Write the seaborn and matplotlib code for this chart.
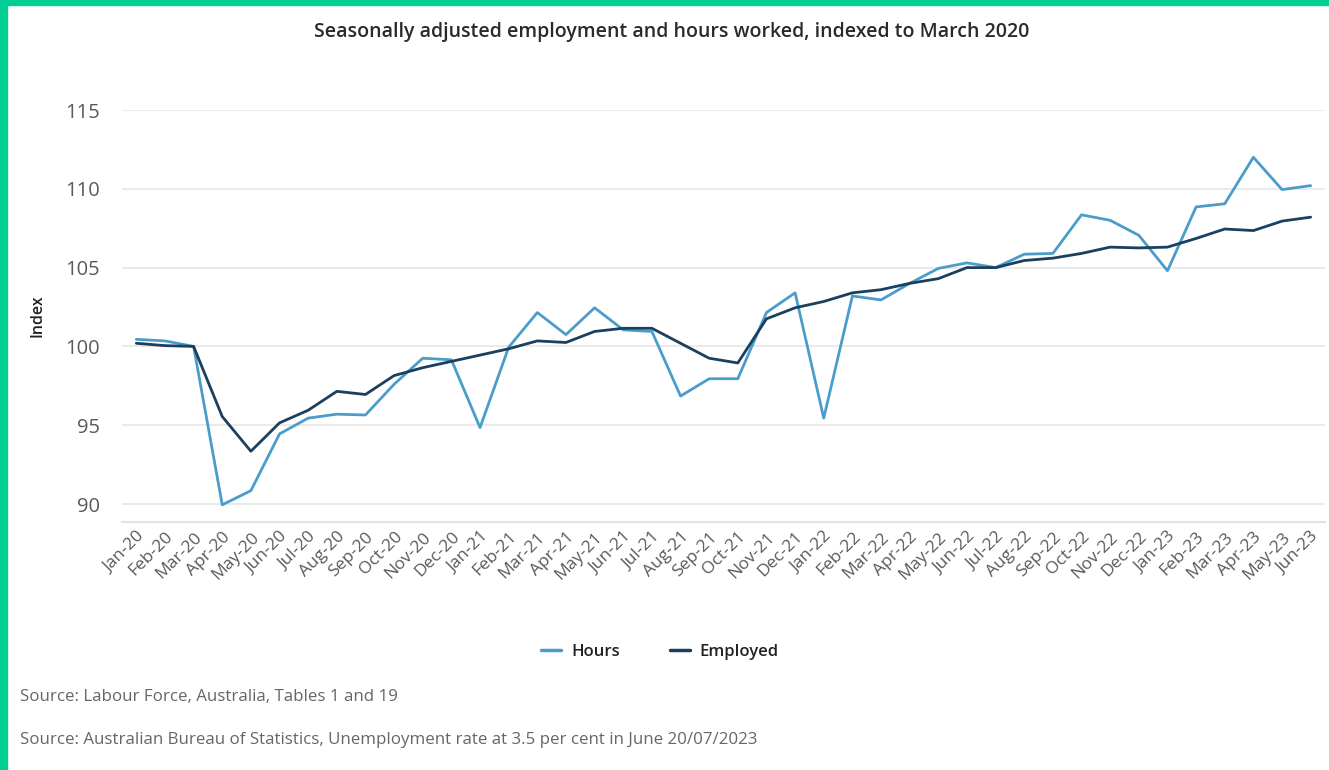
# -*- coding: utf-8 -*-
"""
Seasonally adjusted employment and hours worked, indexed to March 2020
"""

import numpy as np
import pandas as pd
import matplotlib.pyplot as plt
import seaborn as sns
from matplotlib.patches import Rectangle

#monthly labels Jan-20 .. Jun-23
months = ['Jan-20', 'Feb-20', 'Mar-20', 'Apr-20', 'May-20', 'Jun-20', 'Jul-20', 'Aug-20',
          'Sep-20', 'Oct-20', 'Nov-20', 'Dec-20', 'Jan-21', 'Feb-21', 'Mar-21', 'Apr-21',
          'May-21', 'Jun-21', 'Jul-21', 'Aug-21', 'Sep-21', 'Oct-21', 'Nov-21', 'Dec-21',
          'Jan-22', 'Feb-22', 'Mar-22', 'Apr-22', 'May-22', 'Jun-22', 'Jul-22', 'Aug-22',
          'Sep-22', 'Oct-22', 'Nov-22', 'Dec-22', 'Jan-23', 'Feb-23', 'Mar-23', 'Apr-23',
          'May-23', 'Jun-23']

hours = [100.45, 100.35, 100.0, 89.95, 90.85, 94.45, 95.45, 95.7, 95.65, 97.6, 99.25, 99.15,
         94.85, 99.95, 102.15, 100.75, 102.45, 101.05, 100.95, 96.85, 97.95, 97.95, 102.15, 103.4,
         95.45, 103.2, 102.95, 104.0, 104.95, 105.3, 105.0, 105.85, 105.9, 108.35, 108.0, 107.05,
         104.8, 108.85, 109.05, 112.0, 109.95, 110.2]

employed = [100.2, 100.05, 100.0, 95.55, 93.35, 95.15, 95.95, 97.15, 96.95, 98.15, 98.65, 99.05,
            99.45, 99.85, 100.35, 100.25, 100.95, 101.15, 101.15, 100.2, 99.25, 98.95, 101.75, 102.45,
            102.85, 103.4, 103.6, 104.0, 104.3, 105.0, 105.0, 105.45, 105.6, 105.9, 106.3, 106.25,
            106.3, 106.85, 107.45, 107.35, 107.95, 108.2]

series_names = ['Hours', 'Employed']
line_colors = ['#4a9dca', '#1a3f5f']
y_ticks = [90, 95, 100, 105, 110, 115]

#long form dataframe for seaborn
df = pd.DataFrame({
    'pos': list(range(len(months))) * 2,
    'value': hours + employed,
    'series': [series_names[0]] * len(hours) + [series_names[1]] * len(employed),
})

sns.set_style("white")
plt.rcParams['font.family'] = ['Open Sans', 'DejaVu Sans']

fig = plt.figure(figsize=(13.29, 7.70), dpi=100)
ax = fig.add_axes([122 / 1329, 1 - 522 / 770, 1203 / 1329, 412 / 770])

sns.lineplot(data=df, x='pos', y='value', hue='series', palette=line_colors,
             hue_order=series_names, linewidth=2.0, ax=ax, legend=False)

ax.set_xlim(-0.5, len(months) - 0.5)
ax.set_ylim(88.86, 115.0)
ax.set_yticks(y_ticks)
ax.set_yticklabels([str(t) for t in y_ticks], fontsize=14.5, color='#5a5a5a')
ax.set_xticks(range(len(months)))
ax.set_xticklabels(months, rotation=45, ha='right', rotation_mode='anchor',
                   fontsize=12.5, color='#5a5a5a')
ax.tick_params(axis='y', length=0, pad=16)
ax.tick_params(axis='x', length=0, pad=5)
ax.grid(axis='y', color='#e6e6e6', linewidth=1.2)
ax.set_axisbelow(True)
for side in ['top', 'right', 'left']:
    ax.spines[side].set_visible(False)
ax.spines['bottom'].set_color('#e0e2e8')
ax.spines['bottom'].set_linewidth(1.5)
ax.set_xlabel('')
ax.set_ylabel('Index', fontsize=11.5, fontweight='semibold', color='#222222', labelpad=14)

#title
fig.text(672 / 1329, 1 - 32 / 770, 'Seasonally adjusted employment and hours worked, indexed to March 2020',
         ha='center', va='center', fontsize=14, fontweight='semibold', color='#2a2a2a')

#legend
handles = [plt.Line2D([], [], color=c, linewidth=2.5) for c in line_colors]
fig.legend(handles, series_names, loc='center', bbox_to_anchor=(660 / 1329, 1 - 652 / 770),
           ncol=2, frameon=False, handlelength=1.2, columnspacing=3.0, handletextpad=0.6,
           prop={'size': 12, 'weight': 'semibold'}, labelcolor='#222222')

#sources
fig.text(20 / 1329, 1 - 697 / 770, 'Source: Labour Force, Australia, Tables 1 and 19',
         ha='left', va='center', fontsize=12.2, color='#666666')
fig.text(20 / 1329, 1 - 740 / 770,
         'Source: Australian Bureau of Statistics, Unemployment rate at 3.5 per cent in June 20/07/2023',
         ha='left', va='center', fontsize=12.2, color='#666666')

#green frame on left and top
fig.patches.append(Rectangle((0, 0), 7 / 1329, 1, transform=fig.transFigure,
                             color='#02cd93', zorder=10))
fig.patches.append(Rectangle((0, 1 - 5 / 770), 1, 5 / 770, transform=fig.transFigure,
                             color='#02cd93', zorder=10))

plt.savefig("out.png", dpi=100)
